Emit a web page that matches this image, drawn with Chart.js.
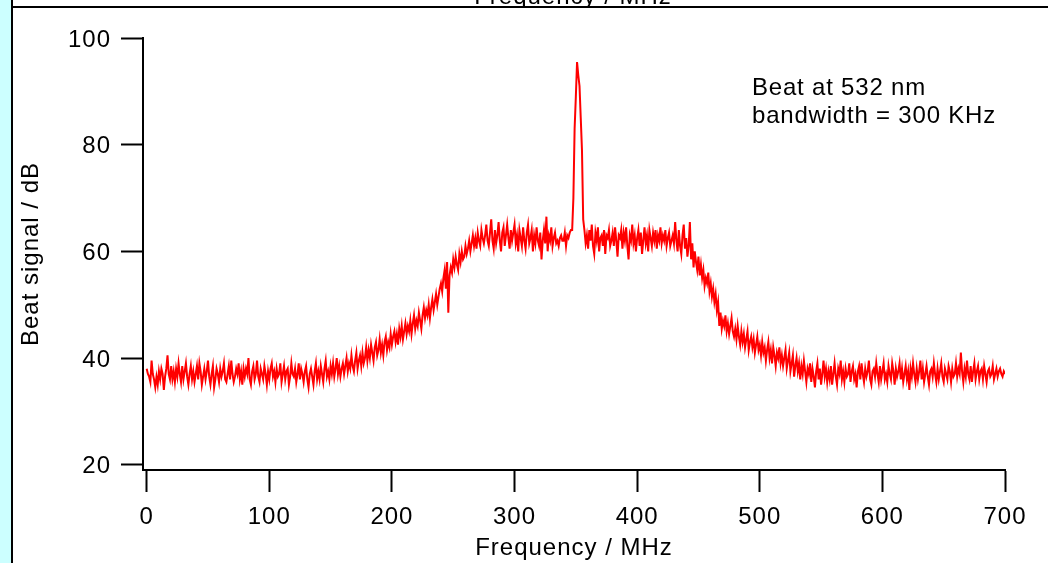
<!DOCTYPE html>
<html>
<head>
<meta charset="utf-8">
<script src="https://cdn.jsdelivr.net/npm/chart.js@4.4.1/dist/chart.umd.min.js"></script>
<style>
    html, body { margin: 0; padding: 0; background: #fff; }
    body { width: 1048px; height: 563px; position: relative; overflow: hidden; font-family: 'Liberation Sans', Arial, sans-serif; }
    #c { position: absolute; left: 0; top: 0; }
    .strip { position: absolute; left: 0; top: 0; width: 11px; height: 563px; background: #ccffff; }
    .vline { position: absolute; left: 11px; top: 0; width: 2px; height: 563px; background: #000; }
    .hline { position: absolute; left: 13px; top: 6px; width: 1035px; height: 2px; background: #000; }
    .clip { position: absolute; left: 13px; top: 0; width: 1035px; height: 6px; overflow: hidden; }
    .clip span { position: absolute; left: 0; width: 1120px; text-align: center; top: -18px; font-size: 24px; line-height: 28px; letter-spacing: 1px; }
    .note { position: absolute; left: 752px; top: 73px; font-size: 24px; line-height: 28px; letter-spacing: 0.8px; color: #000; white-space: nowrap; }
</style>
</head>
<body>
<canvas id="c" width="1048" height="563"></canvas>
<div class="strip"></div>
<div class="vline"></div>
<div class="clip"><span>Frequency / MHz</span></div>
<div class="hline"></div>
<div class="note">Beat at 532 nm<br>bandwidth = 300 KHz</div>
<script>
// ===== Beat signal spectrum =====
const FREQ_START = 0;   // MHz
const FREQ_STEP = 1;    // MHz between samples
const xTicks = [0, 100, 200, 300, 400, 500, 600, 700];
const yTicks = [20, 40, 60, 80, 100];

// dB, one value per MHz from 0 to 700 MHz (20 per row)
const signal = [
    38, 37, 36.5, 35.5, 39.5, 37, 36, 34.5, 36.5, 35, 37.5, 36, 38, 37, 34, 36.5, 38, 40.5, 37, 36,            // 0
    38.5, 36, 37.5, 35.5, 38, 36.5, 39, 37, 35.5, 38.5, 36, 37.5, 39, 36.5, 35, 37, 38.5, 36, 37.5, 35.5,      // 20
    37, 38.5, 36, 39, 37.5, 35, 36.5, 38, 36, 37.5, 39.5, 36.5, 35, 37, 38.5, 34.5, 36, 38, 37, 35.5,          // 40
    38, 36.5, 37.5, 39, 36, 35.5, 37, 38.5, 36, 39.5, 37, 35.5, 36.5, 38, 37, 39, 36, 37.5, 35, 38,            // 60
    36.5, 38, 37, 40, 36, 35, 37.5, 38.5, 36, 37, 39.5, 36.5, 35.5, 38, 37, 36, 38.5, 37, 35, 37.5,            // 80
    36, 38, 39, 36.5, 37.5, 35.5, 38, 36.5, 37, 39, 35.5, 37, 38.5, 36, 37.5, 38, 35, 36.5, 39, 37,            // 100
    36.5, 38, 35.5, 37, 39, 36, 38, 37, 35.5, 37.5, 38.5, 36, 34.5, 37, 38, 36.5, 35, 37.5, 39, 36,            // 120
    37.5, 36, 38.5, 37, 35.5, 38, 39.5, 36.5, 37.5, 36, 38.5, 37, 39, 36.5, 38, 40, 37, 38.5, 36.5, 38,        // 140
    39, 37, 38.5, 40, 37.5, 39, 38, 40.5, 38.5, 37.5, 39.5, 41, 38, 39.5, 40.5, 38.5, 41, 39, 40, 42,          // 160
    39.5, 41.5, 40, 42.5, 41, 39.5, 42, 43, 40.5, 41.5, 43.5, 41, 42.5, 40.5, 43, 44, 41.5, 43, 42, 44.5,      // 180
    42.5, 44, 45, 43, 44.5, 42.5, 45.5, 44, 46, 43.5, 45, 46.5, 44.5, 46, 45, 47, 44.5, 46.5, 48, 45.5,        // 200
    47, 46, 48.5, 47, 45.5, 48, 49.5, 47.5, 49, 48, 50, 47.5, 49.5, 51, 49, 50.5, 52, 50, 51.5, 53,            // 220
    54, 52.5, 55, 56.5, 53, 58, 48.5, 55.5, 57, 56, 58.5, 57, 59, 57.5, 56.5, 59.5, 58, 60, 58.5, 59,          // 240
    61, 59.5, 60.5, 62, 60, 61.5, 63, 61, 62.5, 60.5, 63.5, 62, 61, 64, 62.5, 61.5, 63, 65, 62, 61,            // 260
    63.5, 66, 62, 60.5, 64, 61.5, 63, 65.5, 62, 60, 63.5, 64.5, 61, 63, 65, 62.5, 60.5, 64, 62, 63.5,          // 280
    65, 61.5, 63, 60, 64, 62.5, 61, 64.5, 62, 60.5, 63.5, 65, 61.5, 62.5, 64, 60, 63, 61.5, 64.5, 62,          // 300
    61, 63.5, 58.5, 62, 64, 61.5, 66.5, 60, 63, 62, 64.5, 61, 62.5, 63.5, 61.5, 62, 61, 62.5, 63, 62,          // 320
    62, 63.5, 61, 63, 62.5, 63.5, 64, 64, 70, 83, 89, 95.5, 93, 91, 85, 79, 66, 64, 61.5, 63,                  // 340
    60.5, 64, 62, 65, 61, 59.5, 63.5, 62, 64.5, 60, 62.5, 63, 61, 64, 59.5, 63, 62.5, 64, 61, 62,              // 360
    63.5, 61, 64.5, 62, 59, 63, 62.5, 64, 60.5, 63.5, 62, 64.5, 61, 58.5, 63, 62, 65, 61.5, 63, 60,            // 380
    62.5, 64, 61, 63.5, 59.5, 62, 64.5, 61.5, 63, 60, 64, 62.5, 61, 63.5, 62, 64, 60.5, 63, 62, 64.5,          // 400
    61.5, 63, 62, 64, 61, 62.5, 63.5, 61, 62, 63, 61.5, 65.5, 62, 60, 64, 61, 59.5, 63, 65, 60.5,              // 420
    62.5, 59, 61, 65.5, 58.5, 61.5, 57, 60, 58, 56.5, 59, 55.5, 57.5, 55, 56.5, 53.5, 55, 54, 56, 52.5,        // 440
    54, 51.5, 53, 50.5, 52, 49, 50.5, 46, 48.5, 45.5, 47, 46, 48, 45, 46.5, 44.5, 46, 47.5, 45, 44,            // 460
    45.5, 43.5, 46, 44, 42.5, 45, 43, 44.5, 42, 43.5, 45, 41.5, 43, 44, 42, 43.5, 41, 42.5, 44, 41.5,          // 480
    42.5, 40.5, 43, 41, 42, 39.5, 41.5, 43, 40, 41.5, 39, 42, 40.5, 38.5, 41, 40, 42, 39, 40.5, 38.5,          // 500
    40, 41.5, 38, 39.5, 41, 37.5, 39, 40.5, 36.5, 38.5, 40, 37.5, 39, 36, 38.5, 37, 39.5, 37.5, 35.5, 38,      // 520
    37, 39, 35.5, 38, 36.5, 34.5, 37.5, 39, 36, 38, 35, 37, 39.5, 36.5, 38, 35.5, 37.5, 36, 38.5, 35,          // 540
    37, 39, 36.5, 35, 38, 37, 39.5, 36, 37.5, 35.5, 38, 36.5, 37, 39, 35.5, 37.5, 38.5, 36, 37, 34.5,          // 560
    37.5, 38.5, 36, 39, 37, 35.5, 38, 36.5, 37.5, 39.5, 36, 35, 37.5, 38, 36.5, 39, 37, 35.5, 38.5, 36,        // 580
    37.5, 39, 36, 37, 35.5, 38.5, 37, 36, 39, 37.5, 35, 38, 36.5, 37.5, 39, 36, 38, 35.5, 37, 38.5,            // 600
    36, 37.5, 34, 38, 36.5, 39, 37, 35.5, 38, 36, 37.5, 39.5, 36, 38, 35.5, 37, 38.5, 36.5, 35, 37.5,          // 620
    38, 36.5, 39, 37, 35.5, 38, 36, 37.5, 39, 36.5, 35.5, 38, 37, 36, 38.5, 37.5, 35.5, 38, 36.5, 37,          // 640
    39, 36.5, 38, 37, 41, 37.5, 35.5, 38, 36.5, 39.5, 37, 36, 38.5, 35.5, 37.5, 39, 36, 37.5, 38.5, 36,        // 660
    37.5, 38, 36, 38.5, 37, 35.5, 37.5, 38, 36.5, 37, 38.5, 36, 37, 38, 36.5, 37.5, 38, 37, 36.5, 37.5,        // 680
    37                                                                                                         // 700
];

const points = signal.map((v, i) => ({ x: FREQ_START + i * FREQ_STEP, y: v }));

Chart.defaults.font.family = "'Liberation Sans', Arial, sans-serif";
Chart.defaults.font.size = 24;
Chart.defaults.color = '#000';

// slightly wider glyph spacing, like the original plot
const spacing = { id: 'spacing', beforeDraw: c => { c.ctx.letterSpacing = '1px'; } };

const axisGrid = { drawOnChartArea: false, drawTicks: true, tickLength: 22, tickWidth: 2, tickColor: '#000' };

new Chart(document.getElementById('c').getContext('2d'), {
    type: 'scatter',
    data: { datasets: [{ data: points, showLine: true, borderColor: '#ff0000', borderWidth: 2, pointRadius: 0, tension: 0, fill: false }] },
    options: {
        responsive: false, animation: false, devicePixelRatio: 1,
        layout: { padding: { left: 0, right: 43, top: 38, bottom: 0 } },
        plugins: { legend: { display: false }, tooltip: { enabled: false } },
        scales: {
            x: {
                type: 'linear', min: -3, max: 700,
                afterBuildTicks: s => { s.ticks = xTicks.map(v => ({ value: v })); },
                afterFit: s => { s.height = 93; },
                border: { color: '#000', width: 2 },
                grid: axisGrid,
                ticks: { padding: 11, maxRotation: 0, autoSkip: false },
                title: { display: true, text: 'Frequency / MHz', padding: { top: 0, bottom: 0 } }
            },
            y: {
                type: 'linear', min: 19, max: 100,
                afterBuildTicks: s => { s.ticks = yTicks.map(v => ({ value: v })); },
                afterFit: s => { s.width = 143; },
                border: { color: '#000', width: 2 },
                grid: axisGrid,
                ticks: { padding: 10, autoSkip: false, labelOffset: 2 },
                title: { display: true, text: 'Beat signal / dB', padding: { top: 17, bottom: 0 } }
            }
        }
    },
    plugins: [spacing]
});
</script>
</body>
</html>
